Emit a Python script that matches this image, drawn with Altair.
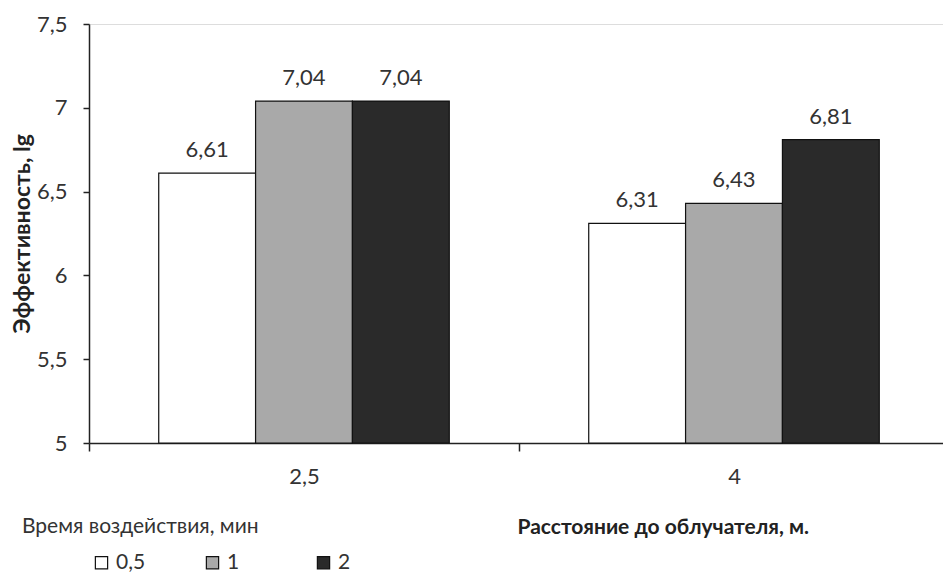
import altair as alt
import pandas as pd

distances = ["2,5", "2,5", "2,5", "4", "4", "4"]
times = ["0,5", "1", "2", "0,5", "1", "2"]
values = [6.61, 7.04, 7.04, 6.31, 6.43, 6.81]
labels = ["6,61", "7,04", "7,04", "6,31", "6,43", "6,81"]

time_order = ["0,5", "1", "2"]
colors = ["#ffffff", "#a9a9a9", "#2a2a2a"]

df = pd.DataFrame({"dist": distances, "time": times, "value": values, "label": labels})

FONT = "Lato"
W, H = 854, 419

x = alt.X(
    "dist:N",
    scale=alt.Scale(range=[0, 860], paddingInner=0, paddingOuter=0),
    axis=alt.Axis(
        title="Расстояние до облучателя, м.",
        titleFont=FONT, titleFontSize=21, titleFontWeight="bold", titleColor="#222",
        titleX=428, titleY=90, titleAlign="left", titleBaseline="alphabetic", titleAnchor="start",
        labelAngle=0, labelFont=FONT, labelFontSize=22, labelColor="#333", labelPadding=15,
        tickBand="extent", tickSize=8, tickColor="#222", domainColor="#222",
        domainWidth=1.5, tickWidth=1.5,
    ),
)
xoff = alt.XOffset("time:N", sort=time_order, scale=alt.Scale(paddingInner=0, paddingOuter=0.72))
y = alt.Y(
    "value:Q",
    scale=alt.Scale(domain=[5, 7.5], nice=False, zero=False),
    axis=alt.Axis(
        title="Эффективность, lg",
        titleFont=FONT, titleFontSize=23, titleFontWeight="bold", titleColor="#222",
        titleX=-67, titleY=H / 2, titleAlign="center", titleBaseline="middle", titleAngle=270,
        values=[5, 5.5, 6, 6.5, 7, 7.5],
        labelExpr="replace(format(datum.value, ''), '.', ',')",
        labelFont=FONT, labelFontSize=22, labelColor="#333", labelPadding=16,
        grid=False, tickSize=6, tickColor="#222", domainColor="#222",
        domainWidth=1.5, tickWidth=1.5,
    ),
)

bars = alt.Chart(df).mark_bar(stroke="#111", strokeWidth=1.2, clip=False).encode(
    x=x,
    xOffset=xoff,
    y=y,
    y2=alt.datum(5),
    fill=alt.Fill(
        "time:N",
        sort=time_order,
        scale=alt.Scale(domain=time_order, range=colors),
        legend=alt.Legend(
            title=None, orient="none", legendX=2, legendY=528, direction="horizontal",
            columns=3, gridAlign="all", columnPadding=56, symbolType="square", symbolSize=150,
            symbolStrokeColor="#111", symbolStrokeWidth=1.2, labelFont=FONT, labelFontSize=21,
            labelColor="#333", labelOffset=4,
        ),
    ),
)

text = alt.Chart(df).mark_text(font=FONT, fontSize=22, color="#333", baseline="bottom", dy=-11).encode(
    x=x, xOffset=xoff, y=y, text="label:N"
)

legend_title = alt.Chart(pd.DataFrame({"t": ["Время воздействия, мин"]})).mark_text(
    font=FONT, fontSize=21, color="#333", align="left", baseline="middle"
).encode(x=alt.value(-67), y=alt.value(503), text="t:N")

chart = (
    alt.layer(bars, text, legend_title)
    .properties(
        width=W, height=H,
        autosize=alt.AutoSizeParams(type="none"),
        padding={"left": 89, "top": 24, "right": 0, "bottom": 133},
    )
    .configure_view(stroke=None)
    .configure(background="#ffffff")
)

chart.save("out.html", embed_options={"renderer": "svg", "actions": False})
